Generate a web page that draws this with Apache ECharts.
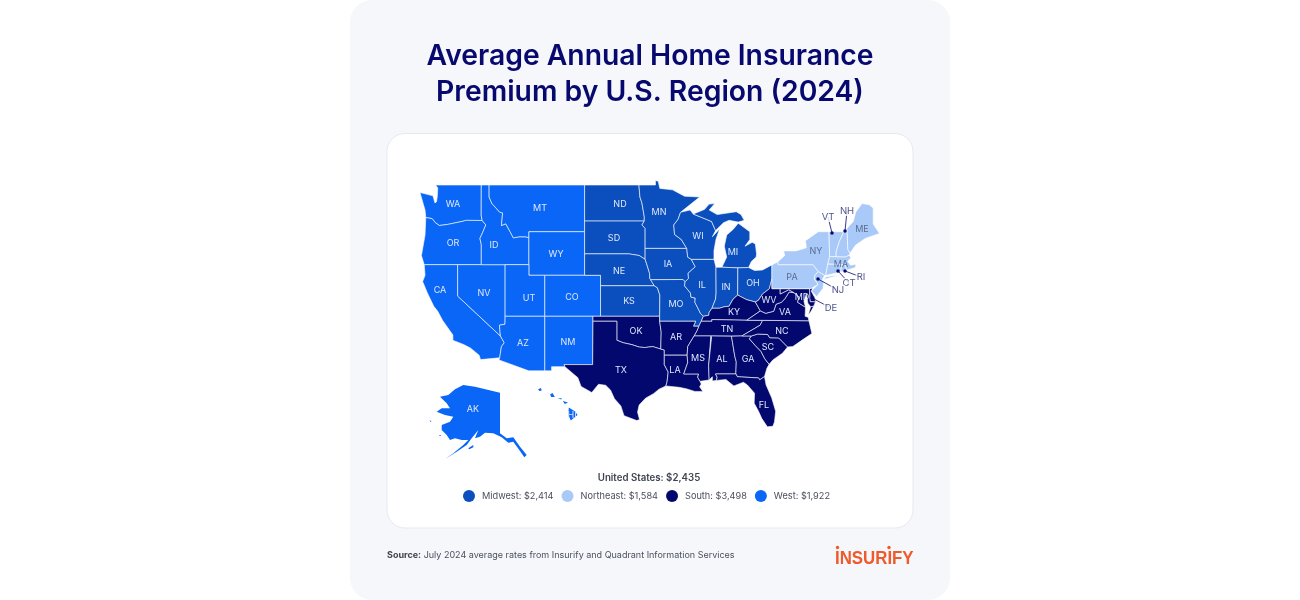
<!DOCTYPE html>
<html lang="en">
<head>
<meta charset="UTF-8">
<title>Average Annual Home Insurance Premium by U.S. Region (2024)</title>
<script src="https://cdn.jsdelivr.net/npm/echarts@6/dist/echarts.min.js"></script>
<style>
  html, body { margin: 0; padding: 0; background: #fff; }
  #chart { width: 1300px; height: 600px; }
</style>
</head>
<body>
<div id="chart"></div>
<script>
// ---- data ----
var regionNames = ['Midwest', 'Northeast', 'South', 'West'];
var regionPremiums = [2414, 1584, 3498, 1922];
var regionColors = ['#0a4fbd', '#a9c9f8', '#03086e', '#0a66f6'];
var nationalPremium = 2435;

var midwestStates = ['ND', 'SD', 'NE', 'KS', 'MN', 'IA', 'MO', 'WI', 'IL', 'IN', 'MI', 'OH'];
var northeastStates = ['PA', 'NY', 'NJ', 'CT', 'RI', 'MA', 'VT', 'NH', 'ME'];
var southStates = ['TX', 'OK', 'AR', 'LA', 'MS', 'AL', 'TN', 'KY', 'GA', 'FL', 'SC', 'NC', 'VA', 'WV', 'MD', 'DE'];
var westStates = ['WA', 'OR', 'CA', 'NV', 'ID', 'MT', 'WY', 'UT', 'AZ', 'CO', 'NM', 'AK', 'HI'];
var regionStates = [midwestStates, northeastStates, southStates, westStates];

// state outlines, [lon, lat]
var outlines = {
  WA: [[[-122.76,49],[-117.03,49],[-117.04,46.42],[-116.92,45.99],[-118.98,46],[-119.3,45.93],[-121.2,45.65],[-122.3,45.55],[-122.8,45.8],[-123.2,46.15],[-124,46.25],[-124.1,46.9],[-124.4,47.6],[-124.73,48.38],[-123.1,48.1],[-122.85,47.5],[-122.65,47.6],[-122.55,48.1],[-122.5,48.75]]],
  OR: [[[-124,46.25],[-123.2,46.15],[-122.8,45.8],[-122.3,45.55],[-121.2,45.65],[-119.3,45.93],[-118.98,46],[-116.92,45.99],[-116.46,45.6],[-116.85,44.95],[-117.2,44.4],[-117.03,43.85],[-117.03,42],[-124.2,42],[-124.55,42.84],[-124.1,44.7]]],
  CA: [[[-124.2,42],[-120,42],[-120,39],[-114.63,35],[-114.15,34.3],[-114.5,33.9],[-114.72,32.72],[-117.13,32.53],[-117.3,33],[-118.4,33.75],[-119.2,34.1],[-120.6,34.55],[-120.6,35.1],[-121.9,36.6],[-122.5,37.5],[-123,38],[-123.8,39.3],[-124.4,40.4],[-124.1,41]]],
  NV: [[[-120,42],[-114.04,42],[-114.04,37],[-114.05,36.2],[-114.75,36.1],[-114.63,35],[-120,39]]],
  ID: [[[-117.03,49],[-116.05,49],[-116.05,48],[-115.7,47.45],[-114.7,46.7],[-114.35,46.65],[-114.5,45.55],[-113.95,45.7],[-113.45,45.05],[-113,44.45],[-112.3,44.55],[-111.5,44.55],[-111.05,44.48],[-111.05,42],[-117.03,42],[-117.03,43.85],[-117.2,44.4],[-116.85,44.95],[-116.46,45.6],[-116.92,45.99],[-117.04,46.42]]],
  MT: [[[-116.05,49],[-104.05,49],[-104.05,45],[-111.05,45],[-111.05,44.48],[-111.5,44.55],[-112.3,44.55],[-113,44.45],[-113.45,45.05],[-113.95,45.7],[-114.5,45.55],[-114.35,46.65],[-114.7,46.7],[-115.7,47.45],[-116.05,48]]],
  WY: [[[-111.05,45],[-104.05,45],[-104.05,41],[-111.05,41]]],
  UT: [[[-114.04,42],[-111.05,42],[-111.05,41],[-109.05,41],[-109.05,37],[-114.04,37]]],
  AZ: [[[-114.04,37],[-109.05,37],[-109.05,31.33],[-111.07,31.33],[-114.81,32.5],[-114.72,32.72],[-114.5,33.9],[-114.15,34.3],[-114.63,35],[-114.75,36.1],[-114.05,36.2]]],
  CO: [[[-109.05,41],[-102.05,41],[-102.05,37],[-109.05,37]]],
  NM: [[[-109.05,37],[-103,37],[-103.04,32],[-106.62,32],[-106.53,31.78],[-108.2,31.78],[-108.2,31.33],[-109.05,31.33]]],
  ND: [[[-104.05,49],[-97.23,49],[-97.1,48],[-96.85,47.5],[-96.55,46.3],[-96.56,45.94],[-104.05,45.94]]],
  SD: [[[-104.05,45.94],[-96.56,45.94],[-96.85,45.6],[-96.45,45.3],[-96.45,43.5],[-96.45,42.5],[-97.2,42.85],[-98.5,43],[-104.05,43]]],
  NE: [[[-104.05,43],[-98.5,43],[-97.2,42.85],[-96.45,42.5],[-96.1,41.7],[-95.9,41.2],[-95.85,40.7],[-95.3,40],[-102.05,40],[-102.05,41],[-104.05,41]]],
  KS: [[[-102.05,40],[-95.3,40],[-94.9,39.8],[-94.6,39.1],[-94.62,37],[-102.05,37]]],
  OK: [[[-103,37],[-94.62,37],[-94.62,36.5],[-94.43,35.4],[-94.48,33.64],[-95.5,33.9],[-96.5,33.8],[-97.2,33.85],[-98.1,34.1],[-99.2,34.3],[-100,34.56],[-100,36.5],[-103,36.5]]],
  TX: [[[-103,36.5],[-100,36.5],[-100,34.56],[-99.2,34.3],[-98.1,34.1],[-97.2,33.85],[-96.5,33.8],[-95.5,33.9],[-94.48,33.64],[-94.04,33.55],[-94.04,33],[-94.04,31.99],[-93.55,31.2],[-93.7,30.1],[-93.84,29.7],[-94.7,29.35],[-95.4,28.85],[-96.4,28.35],[-97.2,27.6],[-97.4,26.8],[-97.15,25.96],[-97.5,25.85],[-99.1,26.4],[-99.5,27.5],[-100.3,28.3],[-100.8,29.25],[-101.4,29.77],[-102.3,29.88],[-103.15,28.98],[-104.5,29.65],[-104.9,30.6],[-106.53,31.78],[-106.62,32],[-103.04,32]]],
  MN: [[[-97.23,49],[-95.15,49],[-95.15,49.38],[-94.8,49.3],[-94.6,48.72],[-93,48.6],[-91.5,48.07],[-89.6,48],[-92,46.7],[-92.3,46.1],[-92.85,45.6],[-92.75,44.75],[-91.9,44.3],[-91.22,43.5],[-96.45,43.5],[-96.45,45.3],[-96.85,45.6],[-96.56,45.94],[-96.55,46.3],[-96.85,47.5],[-97.1,48]]],
  IA: [[[-96.45,43.5],[-91.22,43.5],[-91.1,42.7],[-90.65,42.5],[-90.15,41.8],[-91.05,41.2],[-91,40.7],[-91.42,40.38],[-91.7,40.6],[-95.77,40.58],[-95.85,40.7],[-95.9,41.2],[-96.1,41.7],[-96.45,42.5]]],
  MO: [[[-95.77,40.58],[-91.7,40.6],[-91.42,40.38],[-91.5,40],[-90.75,39.3],[-90.7,38.9],[-90.15,38.8],[-90.2,38.4],[-89.5,37.3],[-89.13,37],[-89.4,36.5],[-89.7,36],[-90.37,36],[-90.1,36.5],[-94.62,36.5],[-94.62,37],[-94.6,39.1],[-94.9,39.8],[-95.3,40]]],
  IL: [[[-90.65,42.5],[-87.8,42.5],[-87.55,41.75],[-87.53,39.3],[-87.6,38.7],[-88.05,37.8],[-88.4,37.4],[-88.45,37.1],[-89.13,37],[-89.5,37.3],[-90.2,38.4],[-90.15,38.8],[-90.7,38.9],[-90.75,39.3],[-91.5,40],[-91.42,40.38],[-91,40.7],[-91.05,41.2],[-90.15,41.8]]],
  WI: [[[-92,46.7],[-90.8,46.9],[-90.4,46.55],[-88.1,45.9],[-87.6,45.1],[-88,44.55],[-87.1,45.25],[-87.55,44.3],[-87.8,43.3],[-87.8,42.5],[-90.65,42.5],[-91.1,42.7],[-91.22,43.5],[-91.9,44.3],[-92.75,44.75],[-92.85,45.6],[-92.3,46.1]]],
  MI: [[[-90.4,46.55],[-89,46.95],[-88.4,47.4],[-87.7,47.45],[-88.4,46.9],[-87.4,46.5],[-85,46.75],[-84.4,46.5],[-84,46],[-84.75,45.85],[-85.9,46],[-86.6,45.8],[-87.6,45.1],[-88.1,45.9]],
       [[-86.8,41.76],[-84.8,41.7],[-83.45,41.73],[-83.1,42.3],[-82.5,42.7],[-82.45,43],[-82.6,43.9],[-83,44.05],[-83.9,43.7],[-83.3,44.3],[-83.3,45],[-84.75,45.75],[-85.4,45.2],[-86.2,44.7],[-86.5,43.7],[-86.2,42.7]]],
  IN: [[[-87.55,41.75],[-86.8,41.76],[-84.8,41.7],[-84.82,39.1],[-85.4,38.7],[-85.9,38],[-86.5,37.95],[-87.1,37.8],[-88.05,37.8],[-87.6,38.7],[-87.53,39.3]]],
  OH: [[[-84.8,41.7],[-83.45,41.73],[-82.7,41.45],[-81.7,41.5],[-80.52,41.98],[-80.52,40.64],[-80.85,39.7],[-81.7,39.2],[-82.2,38.6],[-82.6,38.42],[-83.7,38.65],[-84.82,39.1]]],
  KY: [[[-89.4,36.5],[-89.13,37],[-88.45,37.1],[-88.4,37.4],[-88.05,37.8],[-87.1,37.8],[-86.5,37.95],[-85.9,38],[-85.4,38.7],[-84.82,39.1],[-83.7,38.65],[-82.6,38.42],[-81.97,37.54],[-83.68,36.6],[-88.07,36.67],[-88.05,36.5]]],
  TN: [[[-89.7,36],[-89.4,36.5],[-88.05,36.5],[-88.07,36.67],[-83.68,36.6],[-81.68,36.59],[-82,36.1],[-84.3,35],[-85.6,34.98],[-88.2,35],[-90.3,35],[-89.9,35.6]]],
  AR: [[[-94.62,36.5],[-90.1,36.5],[-90.37,36],[-89.7,36],[-89.9,35.6],[-90.3,35],[-91.1,33.9],[-91.17,33],[-94.04,33],[-94.04,33.55],[-94.48,33.64],[-94.43,35.4]]],
  LA: [[[-94.04,33],[-91.17,33],[-91.1,32.2],[-91.6,31],[-89.73,31],[-89.85,30.65],[-89.55,30.2],[-89.4,29.9],[-89.6,29.6],[-89.2,29.1],[-90.2,29.1],[-91.3,29.4],[-92.2,29.55],[-93.84,29.7],[-93.7,30.1],[-93.55,31.2],[-94.04,31.99]]],
  MS: [[[-91.17,33],[-91.1,33.9],[-90.3,35],[-88.2,35],[-88.1,34.9],[-88.47,31.9],[-88.4,30.35],[-89.55,30.2],[-89.85,30.65],[-89.73,31],[-91.6,31],[-91.1,32.2]]],
  AL: [[[-88.2,35],[-85.6,34.98],[-85.18,32.87],[-85,32.3],[-85.05,31],[-87.6,31],[-87.4,30.65],[-87.5,30.3],[-88,30.25],[-88,30.7],[-88.4,30.35],[-88.47,31.9],[-88.1,34.9]]],
  GA: [[[-85.6,34.98],[-84.3,35],[-83.1,35],[-83.35,34.7],[-82.6,34],[-81.9,33.4],[-81.4,32.6],[-80.87,32.03],[-81.15,31.6],[-81.45,30.72],[-82.05,30.36],[-82.2,30.57],[-84.86,30.7],[-85.05,31],[-85,32.3],[-85.18,32.87]]],
  SC: [[[-83.35,34.7],[-83.1,35],[-82.3,35.2],[-81.05,35.15],[-80.8,34.82],[-79.67,34.8],[-78.55,33.86],[-79.2,33.2],[-80.4,32.5],[-80.87,32.03],[-81.4,32.6],[-81.9,33.4],[-82.6,34]]],
  NC: [[[-84.3,35],[-82,36.1],[-81.68,36.59],[-75.87,36.55],[-75.5,35.25],[-76.5,34.7],[-77.9,33.9],[-78.55,33.86],[-79.67,34.8],[-80.8,34.82],[-81.05,35.15],[-82.3,35.2],[-83.1,35]]],
  VA: [[[-83.68,36.6],[-81.97,37.54],[-81.3,37.3],[-80.3,37.5],[-80,38.2],[-79.3,38.4],[-78.87,38.77],[-78.35,39.4],[-77.72,39.32],[-77.1,38.9],[-77.3,38.4],[-76.3,37.9],[-76.35,37],[-75.97,36.9],[-75.87,36.55],[-81.68,36.59]],
       [[-75.95,37.15],[-75.65,37.95],[-75.25,38.03],[-75.6,37.5]]],
  WV: [[[-82.6,38.42],[-82.2,38.6],[-81.7,39.2],[-80.85,39.7],[-80.52,40.64],[-80.52,39.72],[-79.48,39.72],[-79.48,39.2],[-78.4,39.62],[-77.72,39.32],[-78.35,39.4],[-78.87,38.77],[-79.3,38.4],[-80,38.2],[-80.3,37.5],[-81.3,37.3],[-81.97,37.54]]],
  MD: [[[-79.48,39.72],[-75.79,39.72],[-75.7,38.46],[-75.05,38.45],[-75.25,38.03],[-75.65,37.95],[-76,38.3],[-76.2,39.2],[-76.5,38.5],[-76.3,37.9],[-77.3,38.4],[-77.1,38.9],[-77.72,39.32],[-78.4,39.62],[-79.48,39.2]]],
  DE: [[[-75.79,39.72],[-75.42,39.8],[-75.55,39.45],[-75.1,38.8],[-75.05,38.45],[-75.7,38.46]]],
  PA: [[[-80.52,41.98],[-79.76,42.27],[-79.76,42],[-75.35,42],[-74.7,41.36],[-75.13,40.97],[-75.2,40.65],[-74.72,40.15],[-75.42,39.8],[-75.79,39.72],[-80.52,39.72],[-80.52,40.64]]],
  NJ: [[[-74.7,41.36],[-73.9,41],[-74.25,40.5],[-74,40.45],[-74.1,39.75],[-74.9,38.95],[-75.55,39.5],[-74.72,40.15],[-75.2,40.65],[-75.13,40.97]]],
  NY: [[[-79.76,42.27],[-79.76,42],[-75.35,42],[-74.7,41.36],[-73.9,41],[-73.65,41],[-73.73,41.1],[-73.5,42.05],[-73.27,42.75],[-73.35,45],[-74.7,45],[-76.3,44.2],[-76.2,43.55],[-77.5,43.27],[-79.05,43.27],[-78.9,42.85]],
       [[-74.03,40.6],[-71.9,41.05],[-73.7,40.87]]],
  VT: [[[-73.35,45],[-71.5,45],[-72.05,44.1],[-72.45,43.2],[-72.46,42.73],[-73.27,42.75]]],
  NH: [[[-71.5,45],[-71.08,45.3],[-70.98,43.4],[-70.7,43.07],[-70.82,42.87],[-71.3,42.7],[-72.46,42.73],[-72.45,43.2],[-72.05,44.1]]],
  ME: [[[-71.08,45.3],[-70.3,45.9],[-70,46.7],[-69.2,47.45],[-68.3,47.35],[-67.8,47.07],[-67.8,45.7],[-67.45,45.3],[-67,44.85],[-68.8,44.4],[-70,43.8],[-70.7,43.07],[-70.98,43.4]]],
  MA: [[[-73.5,42.05],[-73.27,42.75],[-71.3,42.7],[-70.82,42.87],[-70.6,42.65],[-71,42.3],[-70.65,41.95],[-70,42.05],[-70,41.75],[-70.6,41.6],[-71.12,41.5],[-71.38,42.02],[-71.8,42.02]]],
  CT: [[[-73.5,42.05],[-71.8,42.02],[-71.85,41.32],[-73.65,41],[-73.73,41.1]]],
  RI: [[[-71.8,42.02],[-71.38,42.02],[-71.12,41.5],[-71.85,41.32]]],
  FL: [[[-87.5,30.3],[-87.4,30.65],[-87.6,31],[-85.05,31],[-84.86,30.7],[-82.2,30.57],[-82.05,30.36],[-81.45,30.72],[-81.25,29.8],[-80.55,28.4],[-80.05,26.9],[-80.2,25.7],[-80.4,25.2],[-81.1,25.15],[-81.8,26.1],[-82.2,26.9],[-82.75,27.8],[-82.7,28.9],[-83.6,29.8],[-84.1,30.1],[-85.3,29.7],[-86.3,30.4]]]
};
var alaskaOutline = [
  [[463.3,385],[475,386.7],[500,392.7],[500,433.3],[506.7,438.3],[513.3,437.3],[520,446.7],[526.7,455],[524.3,457.3],[520,451],[513.3,441.7],[508.3,442.7],[501.7,437.3],[493.3,433.3],[485,432.7],[480,436.7],[475,438.3],[478.3,430],[471.7,438.3],[466.7,445],[456.7,451.7],[445,459],[453.3,453.3],[463.3,445],[468.3,440],[461.7,440],[455,438.3],[450,440],[446.7,435],[441.7,430],[441.7,425],[450,421.7],[453.3,416.7],[445,415],[436.7,411.7],[441.7,408.3],[450,408.3],[446.7,403.3],[440,396.7],[448.3,395],[455,389.3]],
  [[468.3,448.3],[473.3,445],[473.3,447.3],[469.3,449.3]],
  [[429.5,420.5],[431.5,421],[430.5,422]],
  [[439,435],[441.5,435],[440,436]]
];
var hawaiiOutline = [
  [[-155.9,20.25],[-155.1,19.85],[-154.8,19.5],[-155.65,18.95],[-155.95,19.5]],
  [[-156.65,20.9],[-156,20.75],[-156.4,20.6]],
  [[-157.3,21.2],[-156.75,21.17],[-156.85,21.05]],
  [[-158.25,21.55],[-157.95,21.7],[-157.65,21.3],[-158.1,21.3]],
  [[-159.75,22.1],[-159.4,22.22],[-159.3,21.95],[-159.6,21.9]]
];

// where the reference puts the state names, page pixels
var labelSpots = {
  WA:[453,204], OR:[453,243], CA:[440,290], NV:[484,293], ID:[494,245], MT:[540,208], WY:[556,254],
  UT:[529,298], AZ:[523,343], CO:[572,297], NM:[568,342], ND:[620,204], SD:[614,238], NE:[619,271],
  KS:[629,301], OK:[636,331], TX:[621,370], MN:[659,212], IA:[668,264], MO:[676,304], AR:[676,337],
  LA:[675,370], WI:[698,236], IL:[702,285], MS:[698,358], AL:[722,359], TN:[727,329], KY:[734,312],
  IN:[726,287], OH:[753,283], MI:[733,252], GA:[748,359], SC:[768,347], NC:[782,331], FL:[764,405],
  VA:[785,312], WV:[769,300], MD:[802,297], PA:[792,277], NY:[816,251], ME:[862,229], MA:[841,264],
  HI:[572,415], AK:[473,409]
};
// small states named outside the map: dot, then label, page pixels
var calloutStates = ['VT', 'NH', 'RI', 'CT', 'NJ', 'DE'];
var calloutDots = [[832,233], [845,231], [845,271], [838,271], [818,279], [812,298]];
var calloutLabels = [[828,217], [847,211], [861,277], [849,283], [838,290], [831,308]];
// no white edge here, it would eat the thin coast and the islands
var borderlessStates = ['AK', 'HI'];

// ---- map space: lon against mercator y, one scale for both ----
var mapScale = 7.96;
var viewLeft = -127.243, viewTop = 58.254;
function mercY(lat) {
  return Math.log(Math.tan(Math.PI / 4 + lat * Math.PI / 360)) * 180 / Math.PI;
}
function fromPage(p) {
  return [viewLeft + (p[0] - 400) / mapScale, viewTop - (p[1] - 170) / mapScale];
}
function mainland(p) { return [p[0], mercY(p[1])]; }
function hawaiiInset(p) { return [-105.64 + (p[0] + 155.5) * 1.0, 27.6 + (p[1] - 19.6) * 1.25]; }

function feature(name, rings, place) {
  return {
    type: 'Feature',
    properties: { name: name, cp: labelSpots[name] ? fromPage(labelSpots[name]) : undefined },
    geometry: {
      type: 'MultiPolygon',
      coordinates: rings.map(function (ring) { return [ring.map(place)]; })
    }
  };
}
var features = Object.keys(outlines).map(function (name) { return feature(name, outlines[name], mainland); });
features.push(feature('AK', alaskaOutline, fromPage));
features.push(feature('HI', hawaiiOutline, hawaiiInset));
echarts.registerMap('usRegions', { type: 'FeatureCollection', features: features });

var stateData = [];
var stateRegions = [];
regionStates.forEach(function (states, i) {
  states.forEach(function (s) {
    stateData.push({ name: s, value: regionPremiums[i] });
    var region = {
      name: s,
      label: { show: calloutStates.indexOf(s) < 0, color: i === 1 ? '#5d6c92' : '#dfe8fb' }
    };
    if (borderlessStates.indexOf(s) >= 0) {
      region.itemStyle = { borderWidth: 0 };
    }
    stateRegions.push(region);
  });
});

function money(v) { return '$' + v.toLocaleString('en-US'); }
function legendName(i) { return regionNames[i] + ': ' + money(regionPremiums[i]); }

var uiFont = 'Inter, "Noto Sans", sans-serif';
var series = [
  { type: 'map', geoIndex: 0, data: stateData, silent: true },
  {
    type: 'lines',
    coordinateSystem: 'geo',
    silent: true,
    z: 4,
    lineStyle: { color: '#07096e', width: 0.8, opacity: 1 },
    data: calloutStates.map(function (s, i) {
      return { coords: [fromPage(calloutDots[i]), fromPage(calloutLabels[i])] };
    })
  },
  {
    type: 'scatter',
    coordinateSystem: 'geo',
    silent: true,
    z: 5,
    symbolSize: 3.5,
    itemStyle: { color: '#07096e', opacity: 1 },
    data: calloutDots.map(fromPage)
  },
  {
    type: 'scatter',
    coordinateSystem: 'geo',
    silent: true,
    z: 6,
    symbolSize: 0,
    label: {
      show: true, position: 'inside', fontFamily: uiFont, fontSize: 9.5, color: '#23286f',
      backgroundColor: '#ffffff', padding: [0, 1],
      formatter: function (p) { return p.name; }
    },
    data: calloutStates.map(function (s, i) {
      return { name: s, value: fromPage(calloutLabels[i]) };
    })
  }
];
// legend entries, empty on purpose
regionNames.forEach(function (n, i) {
  series.push({
    type: 'scatter', coordinateSystem: 'geo', name: legendName(i),
    itemStyle: { color: regionColors[i], opacity: 1 }, data: []
  });
});

var chart = echarts.init(document.getElementById('chart'));
chart.setOption({
  animation: false,
  backgroundColor: '#ffffff',
  title: [
    {
      text: 'Average Annual Home Insurance\nPremium by U.S. Region (2024)',
      left: 650, top: 38, padding: 0, textAlign: 'center',
      textStyle: { fontFamily: uiFont, fontSize: 28.3, fontWeight: 600, color: '#07096e', lineHeight: 36 }
    },
    {
      text: 'United States: ' + money(nationalPremium),
      left: 649, top: 473.5, padding: 0, textAlign: 'center',
      textStyle: { fontFamily: uiFont, fontSize: 9.7, fontWeight: 600, color: '#3f4450' }
    },
    {
      text: '{b|Source:} July 2024 average rates from Insurify and Quadrant Information Services',
      left: 387, top: 550.5, padding: 0,
      textStyle: {
        fontFamily: uiFont, fontSize: 9, fontWeight: 400, color: '#4a5060',
        rich: { b: { fontFamily: uiFont, fontSize: 9, fontWeight: 700, color: '#3f4450' } }
      }
    }
  ],
  graphic: [
    { type: 'rect', z: -10, silent: true, shape: { x: 350, y: 0, width: 600, height: 600, r: 22 }, style: { fill: '#f6f7fb' } },
    { type: 'rect', z: -9, silent: true, shape: { x: 387, y: 133.5, width: 526, height: 394.5, r: 18 }, style: { fill: '#ffffff', stroke: '#e7e9ef', lineWidth: 1 } },
    { type: 'text', z: 5, x: 835, y: 549, scaleX: 0.886, style: { text: 'INSURIFY', fontFamily: '"Liberation Sans", sans-serif', fontWeight: 700, fontSize: 19, fill: '#ee5a2a' } },
    { type: 'circle', z: 5, shape: { cx: 837.5, cy: 547.5, r: 1.7 }, style: { fill: '#ee5a2a' } },
    { type: 'circle', z: 5, shape: { cx: 889, cy: 547.5, r: 1.7 }, style: { fill: '#ee5a2a' } }
  ],
  legend: {
    left: 463, top: 490, padding: 0,
    orient: 'horizontal',
    icon: 'circle',
    itemWidth: 12, itemHeight: 12, itemGap: 8,
    selectedMode: false,
    textStyle: { fontFamily: uiFont, fontSize: 9.2, color: '#4a4f5c', padding: [0, 0, 0, 2] },
    data: regionNames.map(function (n, i) { return legendName(i); })
  },
  visualMap: {
    show: false,
    type: 'piecewise',
    seriesIndex: 0,
    pieces: regionNames.map(function (n, i) {
      return { value: regionPremiums[i], label: n, color: regionColors[i] };
    })
  },
  geo: {
    map: 'usRegions',
    roam: false,
    silent: true,
    left: 400, top: 170, width: 500, height: 300,
    aspectScale: 1,
    boundingCoords: [[viewLeft, viewTop], [viewLeft + 500 / mapScale, viewTop - 300 / mapScale]],
    itemStyle: { borderColor: '#ffffff', borderWidth: 0.6 },
    label: { show: true, fontFamily: uiFont, fontSize: 9 },
    regions: stateRegions
  },
  series: series
});
window.onresize = chart.resize;
</script>
</body>
</html>
